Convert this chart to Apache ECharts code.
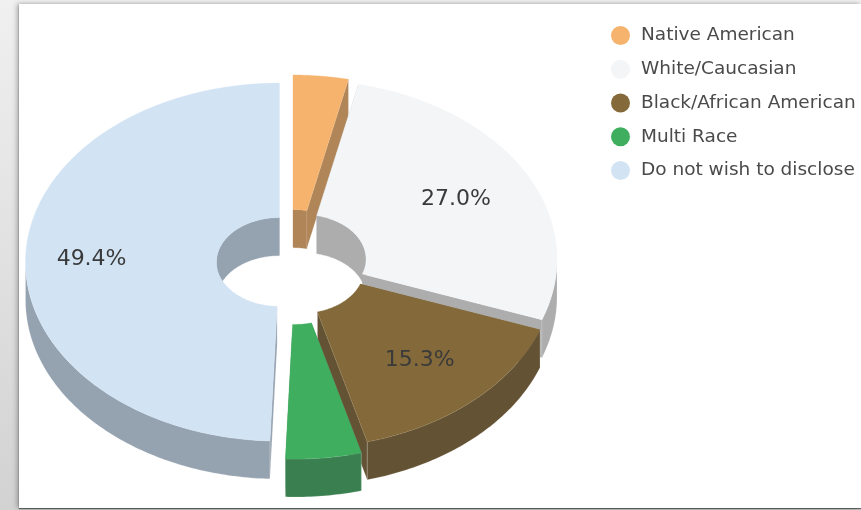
<!DOCTYPE html>
<html>
<head>
<meta charset="utf-8">
<script src="https://cdn.jsdelivr.net/npm/echarts@6/dist/echarts.min.js"></script>
<style>
  html, body { margin: 0; width: 861px; height: 510px; overflow: hidden; background: linear-gradient(#f0f0f0, #d2d2d2); }
  #panel { position: absolute; left: 19px; top: 4px; width: 842px; height: 504px; background: #fff;
           box-shadow: -2px 0 5px rgba(0,0,0,.28), 0 -1px 3px rgba(0,0,0,.06), 0 1px 1px rgba(0,0,0,.5); }
  #chart { position: absolute; left: 0; top: 0; width: 861px; height: 510px; }
</style>
</head>
<body>
<div id="panel"></div>
<div id="chart"></div>
<script>
// Survey breakdown, share of respondents in percent
const categories = ['Native American', 'White/Caucasian', 'Black/African American', 'Multi Race', 'Do not wish to disclose'];
const shares = [3.5, 27.0, 15.3, 4.8, 49.4];

const topColors  = ['#F6B36E', '#F3F5F7', '#846A3A', '#3FAE5E', '#D2E4F4'];
const wallColors = ['#B08558', '#ADADAD', '#635233', '#3A7F4F', '#95A2B0'];

// Shape of the tilted donut, in pixels
const pieCentre = [292, 266];
const radiusX = 254, radiusY = 179, holeRatio = 0.248, depth = 38;
// How far each slice is pulled out of the donut
const pullOffsets = [[1, -12], [11, -7], [9, 3], [3, 14], [-12.5, -4]];
// Where the percentage sits between centre and rim; 0 leaves a slice unlabelled
const labelRadii = [0, 0.687, 0.69, 0, 0.74];

const total = shares.reduce((a, b) => a + b, 0);
const toAngle = v => echarts.number.linearMap(v, [0, total], [0, Math.PI * 2]);

// Angle is measured clockwise from twelve o'clock
function rimPoint(c, k, a, drop) {
  return [c[0] + radiusX * k * Math.sin(a), c[1] - radiusY * k * Math.cos(a) + (drop || 0)];
}
function arc(c, k, a0, a1, drop) {
  const n = Math.max(2, Math.ceil(Math.abs(a1 - a0) / 0.015));
  const pts = [];
  for (let i = 0; i <= n; i++) pts.push(rimPoint(c, k, a0 + (a1 - a0) * i / n, drop));
  return pts;
}
function poly(points, fill, edge) {
  return { type: 'polygon', shape: { points }, style: { fill, stroke: edge || fill, lineWidth: edge ? 0.8 : 0.3 } };
}

function sliceRenderer(index, startValue) {
  return function (params, api) {
    const value = api.value(0);
    const a0 = toAngle(startValue), a1 = toAngle(startValue + value);
    const c = [pieCentre[0] + pullOffsets[index][0], pieCentre[1] + pullOffsets[index][1]];
    const top = topColors[index], wall = wallColors[index];
    const rim = 'rgba(255,255,255,0.22)';
    const children = [];

    // Cut faces, first the one the earlier slice hides, then the visible one
    const face = a => poly([rimPoint(c, holeRatio, a), rimPoint(c, 1, a), rimPoint(c, 1, a, depth), rimPoint(c, holeRatio, a, depth)], wall, rim);
    children.push(face(a0), face(a1));

    // Far side of the hole: the part of the inner wall that faces the viewer
    const ranges = [[-Math.PI / 2, Math.PI / 2], [Math.PI * 1.5, Math.PI * 2.5]];
    ranges.forEach(([lo, hi]) => {
      const s = Math.max(a0, lo), e = Math.min(a1, hi);
      if (e > s) children.push(poly(arc(c, holeRatio, s, e).concat(arc(c, holeRatio, e, s, depth)), wall));
    });

    // Near side of the outer wall
    const s = Math.max(a0, Math.PI / 2), e = Math.min(a1, Math.PI * 1.5);
    if (e > s) children.push(poly(arc(c, 1, s, e).concat(arc(c, 1, e, s, depth)), wall, rim));

    // Top surface
    children.push(poly(arc(c, 1, a0, a1).concat(arc(c, holeRatio, a1, a0)), top));

    if (labelRadii[index]) {
      const p = rimPoint(c, labelRadii[index], (a0 + a1) / 2);
      children.push({
        type: 'text',
        z2: 10,
        style: {
          x: p[0], y: p[1], text: value.toFixed(1) + '%',
          fill: '#3a3a3a', font: '22px "DejaVu Sans"', align: 'center', verticalAlign: 'middle'
        }
      });
    }
    return { type: 'group', children };
  };
}

let running = 0;
const series = categories.map((name, i) => {
  const start = running;
  running += shares[i];
  return {
    type: 'custom',
    name,
    coordinateSystem: 'none',
    itemStyle: { color: topColors[i] },
    data: [{ name, value: [shares[i]] }],
    renderItem: sliceRenderer(i, start)
  };
});

const chart = echarts.init(document.getElementById('chart'), null, { renderer: 'canvas' });
chart.setOption({
  animation: false,
  backgroundColor: 'transparent',
  legend: {
    orient: 'vertical',
    left: 606,
    top: 21,
    icon: 'circle',
    itemWidth: 19,
    itemHeight: 19,
    itemGap: 14.75,
    data: categories,
    textStyle: { color: '#4a4a4a', fontFamily: 'DejaVu Sans', fontSize: 18.5, padding: [0, 0, 0, 6] }
  },
  series
});
</script>
</body>
</html>
